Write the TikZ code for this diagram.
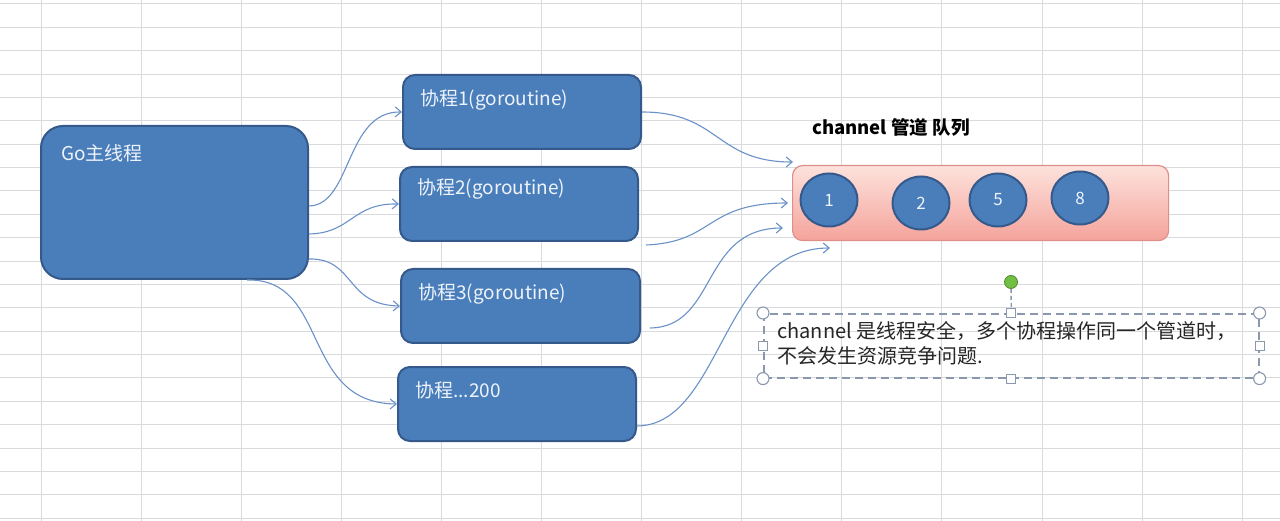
\documentclass[tikz,border=0pt]{standalone}
\usepackage{fontspec}
\setmainfont{Noto Sans CJK SC}
\usetikzlibrary{arrows.meta,shapes.geometric}
\definecolor{boxblue}{HTML}{4A7EBB}
\definecolor{boxedge}{HTML}{35598A}
\definecolor{arrowblue}{HTML}{6A92C8}
\definecolor{gridgray}{HTML}{D8DADE}
\definecolor{pinktop}{HTML}{FDE2DC}
\definecolor{pinkbot}{HTML}{F4A39B}
\definecolor{pinkedge}{HTML}{E08E89}
\definecolor{selgray}{HTML}{8A98AE}
\definecolor{handlegreen}{HTML}{72C043}
\definecolor{labelwhite}{HTML}{EEF3FA}
\begin{document}
\begin{tikzpicture}[x=1pt,y=-1pt,
  gobox/.style={draw=boxedge, line width=2pt, fill=boxblue, rounded corners=12pt, inner sep=0pt, anchor=north west},
  boxlabel/.style={anchor=west, text=labelwhite, font=\fontsize{19}{22}\selectfont, inner sep=0pt},
  conn/.style={draw=arrowblue, line width=1.1pt, -{Straight Barb[length=6pt,width=10pt]}},
  ball/.style={ellipse, draw=boxedge, line width=2pt, fill=boxblue, minimum width=57pt, minimum height=53pt, inner sep=0pt, text=labelwhite, font=\fontsize{17}{19}\selectfont},
  roundhandle/.style={circle, draw=selgray, line width=1.1pt, fill=white, minimum size=12pt, inner sep=0pt},
  squarehandle/.style={rectangle, draw=selgray, line width=1.1pt, fill=white, minimum size=9pt, inner sep=0pt}
]
\useasboundingbox (0,0) rectangle (1280,521);
\fill[white] (0,0) rectangle (1280,521);
% grid
\foreach \k in {0,...,12} \draw[gridgray, line width=1pt] ({41+100.1*\k},0) -- ({41+100.1*\k},521);
\foreach \k in {0,...,22} \draw[gridgray, line width=1pt] (0,{4+23.37*\k}) -- (1280,{4+23.37*\k});

% main thread box
\node[gobox, rounded corners=22pt, minimum width=267pt, minimum height=153pt] (main) at (40,125) {};
\node[boxlabel] (mainlabel) at (61,153) {Go主线程};

% goroutine boxes
\node[gobox, minimum width=238pt, minimum height=74pt] (g1) at (402,74) {};
\node[gobox, minimum width=238pt, minimum height=74pt] (g2) at (399,166) {};
\node[gobox, minimum width=239pt, minimum height=74pt] (g3) at (400,268) {};
\node[gobox, minimum width=238pt, minimum height=74pt] (g4) at (397,366) {};
\node[boxlabel] (g1label) at (420,100) {协程1(goroutine)};
\node[boxlabel] (g2label) at (417,189) {协程2(goroutine)};
\node[boxlabel] (g3label) at (418,294) {协程3(goroutine)};
\node[boxlabel] (g4label) at (415,390) {协程...200};

% channel
\node[font=\bfseries\fontsize{18.5}{20}\selectfont, anchor=west, inner sep=0pt] (title) at (812,127) {channel 管道 队列};
\node[draw=pinkedge, line width=1.2pt, top color=pinktop, bottom color=pinkbot, rounded corners=10pt, minimum width=376pt, minimum height=75pt, inner sep=0pt, anchor=north west] (chan) at (792,165) {};
\node[ball] (c1) at (829,200) {1};
\node[ball] (c2) at (921,203) {2};
\node[ball] (c5) at (998,200) {5};
\node[ball] (c8) at (1080,198) {8};

% connectors main -> goroutines
\draw[conn] ([yshift=-3.5pt]main.east) .. controls (352,205) and (345,111) .. (g1.west);
\draw[conn] ([yshift=-31.5pt]main.east) .. controls (352,233) and (352,203) .. (g2.west);
\draw[conn] ([yshift=-56.5pt]main.east) .. controls (355,258) and (345,305) .. (g3.west);
\draw[conn] ([xshift=72.5pt]main.south) .. controls (330,278) and (300,403) .. (g4.west);

% connectors goroutines -> channel
\coordinate (e1) at (793,162);
\coordinate (e2) at (788,203);
\coordinate (e3) at (783,228);
\coordinate (e4) at (830,248);
\draw[conn] (g1.east) .. controls (720,112) and (715,162) .. (e1);
\draw[conn] ([xshift=7pt,yshift=-3pt]g2.south east) .. controls (715,242) and (705,203) .. (e2);
\draw[conn] ([xshift=9pt,yshift=-22pt]g3.east) .. controls (718,327) and (700,228) .. (e3);
\draw[conn] ([yshift=-22pt]g4.east) .. controls (722,425) and (722,248) .. (e4);

% selected text box
\node[draw=selgray, line width=1.6pt, dash pattern=on 8pt off 5pt, minimum width=495pt, minimum height=64pt, inner sep=0pt, anchor=north west] (desc) at (763,313) {};
\node[anchor=north west, inner sep=0pt, align=left, text=black!85, font=\fontsize{20}{25}\selectfont] (desctext) at (777,321) {channel 是线程安全，多个协程操作同一个管道时，\\不会发生资源竞争问题.};
\node[circle, draw=handlegreen!70!black, line width=0.8pt, fill=handlegreen, minimum size=13pt, inner sep=0pt] (rot) at (1011,282) {};
\node[squarehandle] (hn) at (desc.north) {};
\draw[selgray, line width=1.4pt, dash pattern=on 4pt off 3pt] (rot) -- (hn);
\node[squarehandle] (hs) at (desc.south) {};
\node[squarehandle] (hw) at (desc.west) {};
\node[squarehandle] (he) at (desc.east) {};
\node[roundhandle] (hnw) at (desc.north west) {};
\node[roundhandle] (hne) at (desc.north east) {};
\node[roundhandle] (hsw) at (desc.south west) {};
\node[roundhandle] (hse) at (desc.south east) {};
\end{tikzpicture}
\end{document}
